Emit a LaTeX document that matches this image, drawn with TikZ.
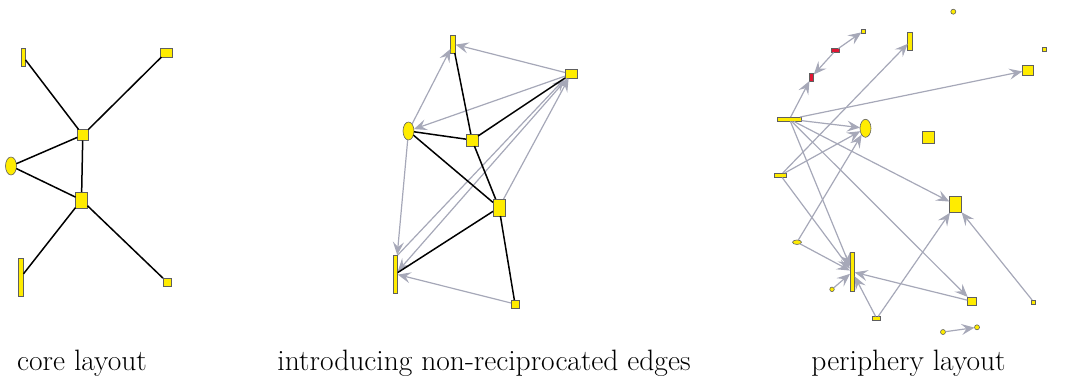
\documentclass[tikz,border=0pt]{standalone}
\usetikzlibrary{shapes.geometric,arrows.meta}
\definecolor{nodeyellow}{RGB}{255,236,0}
\definecolor{nodered}{RGB}{226,22,52}
\definecolor{edgegray}{RGB}{166,168,184}
\definecolor{nodeborder}{RGB}{95,95,95}
\begin{document}
\begin{tikzpicture}[x=1pt,y=-1pt,
  nd/.style={draw=nodeborder,fill=nodeyellow,line width=0.6pt,inner sep=0pt,outer sep=0pt},
  bx/.style 2 args={nd,rectangle,minimum width=#1,minimum height=#2},
  rbx/.style 2 args={bx={#1}{#2},fill=nodered},
  el/.style 2 args={nd,ellipse,minimum width=#1,minimum height=#2},
  dot/.style={nd,circle,minimum size=#1},
  core/.style={draw=black,line width=1.5pt},
  arr/.style={draw=edgegray,line width=1.2pt,-{Stealth[length=13pt,width=11pt,inset=5pt]}},
  lbl/.style={font=\fontsize{29.5}{32}\selectfont,anchor=base,inner sep=0pt}]
\useasboundingbox (0,0) rectangle (1089,376);

% ---------- core layout ----------
\node[bx={4.5}{18}] (A) at (23.3,57) {};
\node[bx={12}{9}] (B) at (166,52.5) {};
\node[bx={11}{11}] (C) at (82.8,135) {};
\node[el={11}{18}] (D) at (11,166) {};
\node[bx={12}{16}] (E) at (81.5,200) {};
\node[bx={5}{38}] (F) at (21,277) {};
\node[bx={8}{8}] (G) at (167,282) {};
\draw[core] (A) -- (C);
\draw[core] (B) -- (C);
\draw[core] (C) -- (D);
\draw[core] (C) -- (E);
\draw[core] (D) -- (E);
\draw[core] (E) -- (F);
\draw[core] (E) -- (G);

% ---------- non-reciprocated ----------
\node[bx={5}{18}] (a) at (453,44) {};
\node[bx={12}{9}] (b) at (571,74) {};
\node[el={11}{18}] (c) at (408.5,131) {};
\node[bx={12}{12}] (d) at (472,140) {};
\node[bx={12}{17}] (e) at (499,207.5) {};
\node[bx={4.5}{38}] (f) at (395.5,274) {};
\node[bx={8}{8}] (g) at (515,304) {};
\draw[arr] (b) -- (a);
\draw[arr] (b) -- (c);
\draw[arr] (c) -- (a);
\draw[arr] (c) -- (f);
\draw[arr] (g) -- (f);
\draw[arr] (b) -- (f);
\draw[arr] (f.north east) -- (b.south west);
\draw[arr] (e) -- (b);
\draw[core] (a) -- (d);
\draw[core] (b) -- (d);
\draw[core] (c) -- (d);
\draw[core] (d) -- (e);
\draw[core] (c) -- (e);
\draw[core] (e) -- (f);
\draw[core] (e) -- (g);

% ---------- periphery layout ----------
\node[dot=5] (p1) at (953.3,11.7) {};
\node[bx={4}{4}] (p2) at (863.3,31) {};
\node[rbx={8}{4}] (p3) at (835.5,50.5) {};
\node[rbx={4.5}{8}] (p4) at (811.5,77) {};
\node[bx={4.5}{18}] (p5) at (910,41.5) {};
\node[bx={4}{4}] (p6) at (1044.3,49.7) {};
\node[bx={11.5}{9.5}] (p7) at (1028,70.3) {};
\node[bx={24}{4.3}] (p8) at (789.5,119.2) {};
\node[el={11}{18}] (p9) at (865.5,128.3) {};
\node[bx={12}{12}] (p10) at (928.7,137.5) {};
\node[bx={12}{4.5}] (p11) at (780.5,175.3) {};
\node[bx={12.3}{16}] (p12) at (955.5,204.7) {};
\node[el={9}{4.5}] (p13) at (797,242.2) {};
\node[bx={4.7}{39}] (p14) at (852.3,271.8) {};
\node[dot=4.5] (p15) at (832,289.3) {};
\node[bx={8}{4.3}] (p16) at (876.7,318.5) {};
\node[bx={9.3}{8.7}] (p17) at (972,301.3) {};
\node[bx={4}{4}] (p18) at (1033.7,302) {};
\node[dot=5] (p19) at (943,332) {};
\node[dot=5] (p20) at (977,327.3) {};
\draw[arr] (p8) -- (p4);
\draw[arr] (p3) -- (p4);
\draw[arr] (p3) -- (p2);
\draw[arr] (p11) -- (p5);
\draw[arr] (p8) -- (p7);
\draw[arr] (p8) -- (p9);
\draw[arr] (p11) -- (p9);
\draw[arr] (p13) -- (p9);
\draw[arr] (p8) -- (p12);
\draw[arr] (p8) -- (p14);
\draw[arr] (p8) -- (p17);
\draw[arr] (p11) -- (p14);
\draw[arr] (p13) -- (p14);
\draw[arr] (p15) -- (p14);
\draw[arr] (p16) -- (p14);
\draw[arr] (p17) -- (p14);
\draw[arr] (p16) -- (p12);
\draw[arr] (p18) -- (p12);
\draw[arr] (p19) -- (p20);

% ---------- labels ----------
\node[lbl] (l1) at (82,370) {core layout};
\node[lbl] (l2) at (484,370) {introducing non-reciprocated edges};
\node[lbl] (l3) at (908.5,370) {periphery layout};
\end{tikzpicture}
\end{document}
